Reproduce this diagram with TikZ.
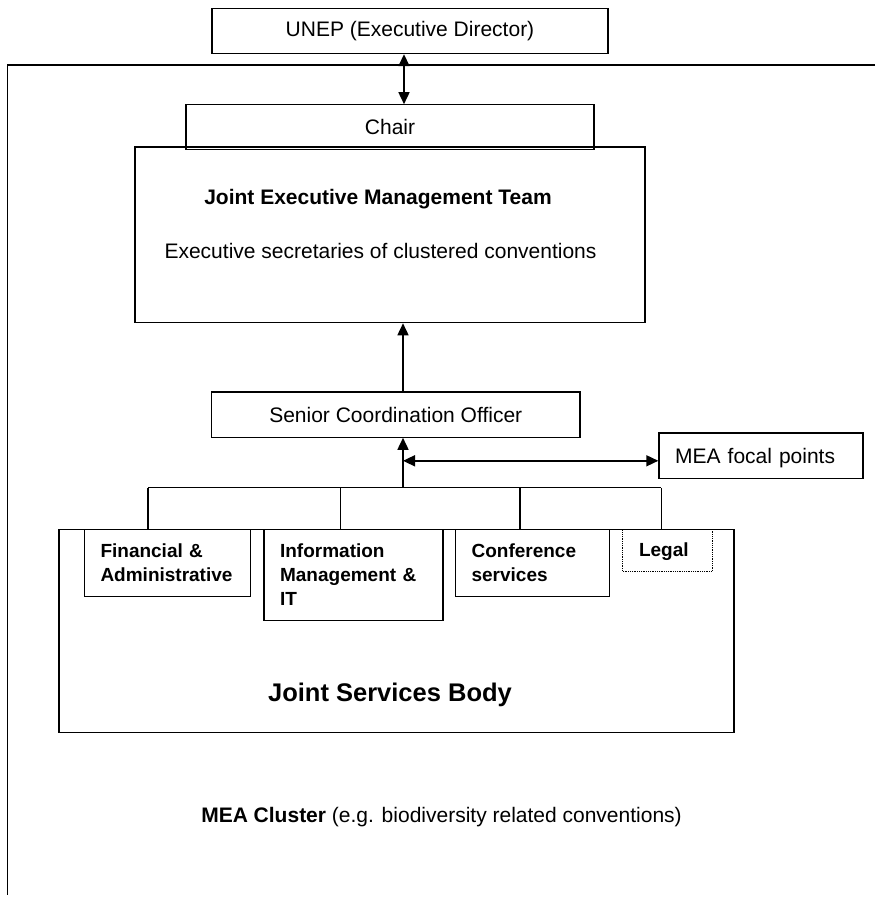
\documentclass[tikz,border=0pt]{standalone}
\usepackage{fontspec}
\setmainfont{Liberation Sans}
\usetikzlibrary{positioning, arrows.meta}

\begin{document}
\begin{tikzpicture}[x=1pt, y=1pt, line width=1.2pt,
		>={Triangle[length=12pt, width=11pt]},
		font=\fontsize{21}{25}\selectfont,
		box/.style={draw, inner sep=0pt},
		link/.style={line width=1.6pt},
		unit/.style={draw, align=left, inner xsep=16.2pt, inner ysep=0pt, font=\fontsize{19}{24}\selectfont\bfseries}]
		\useasboundingbox (0,0) rectangle (875,-901);
		
		% cluster frame, open to the right and at the bottom
		\draw (875,-65)--(7.7,-65)--(7.7,-895);
		
		\node[box, minimum width=510pt, minimum height=175.7pt] (jemt) at (390,-234.85) {};
		\node[box, above=-4pt of jemt, minimum width=408pt, minimum height=45pt] (chair) {Chair};
		\node[box, above=50pt of chair, xshift=20pt, minimum width=396pt, minimum height=45pt] (unep) {UNEP (Executive Director)};
		
		\node[font=\fontsize{21}{25}\selectfont\bfseries, anchor=base] (jemt title) at ([xshift=-12pt, yshift=-58pt]jemt.north) {Joint Executive Management Team};
		\node[anchor=base] (jemt members) at ([xshift=-9.5pt, yshift=-112pt]jemt.north) {Executive secretaries of clustered conventions};
		
		\node[box, below=68pt of jemt, xshift=5.75pt, minimum width=368.5pt, minimum height=45.3pt] (sco) {Senior Coordination Officer};
		\node[box, right=77.7pt of sco, yshift=-41.15pt, text width=171.4pt, inner xsep=16.3pt, align=left, minimum height=45.6pt, text depth=0pt] (mea) {MEA focal points};
		
		%---------
		\node[box, below=90.7pt of sco, xshift=0.75pt, minimum width=675pt, minimum height=203.3pt] (jsb) {};
		\node[unit, anchor=north west, text width=134pt, minimum height=67.3pt] (fin) at ([xshift=25.3pt]jsb.north west) {Financial \&\\Administrative};
		\node[unit, right=12pt of fin.north east, anchor=north west, text width=146.6pt, minimum height=91pt] (info) {Information\\Management \&\\IT};
		\node[unit, right=11.3pt of info.north east, anchor=north west, text width=121.6pt, minimum height=67.3pt] (conf) {Conference\\services};
		\node[unit, right=12.4pt of conf.north east, anchor=north west, text width=57.3pt, minimum height=42.3pt, text depth=0pt, densely dotted, line width=0.8pt] (legal) {Legal};
		\node[font=\fontsize{25.5}{30}\selectfont\bfseries, anchor=base] (jsb title) at ([xshift=-6.5pt, yshift=32pt]jsb.south) {Joint Services Body};
		
		\node[anchor=base] (cluster label) at (441.5,-822) {\textbf{MEA Cluster} (e.g. biodiversity related conventions)};
		
		\coordinate (fork) at ([xshift=7.25pt, yshift=-50pt]sco.south);
		\coordinate (tap) at ([yshift=27pt]fork);
		
		\draw[link, <->] ([xshift=-6pt]unep.south)--([xshift=14pt]chair.north);
		\draw[link, ->] ([xshift=7.25pt]sco.north)--([xshift=13pt]jemt.south);
		\draw[link, ->] (fork)--(fork |- sco.south);
		\draw[link, <->] (tap)--(tap -| mea.west);
		\draw ([xshift=-19.5pt]fin.north |- fork)--([xshift=-6.5pt]legal.north |- fork);
		\foreach \n/\s in {fin/-19.5, info/-13.2, conf/-12.4, legal/-6.5}
			\draw ([xshift=\s pt]\n.north |- fork)--([xshift=\s pt]\n.north);
	\end{tikzpicture}
\end{document}
